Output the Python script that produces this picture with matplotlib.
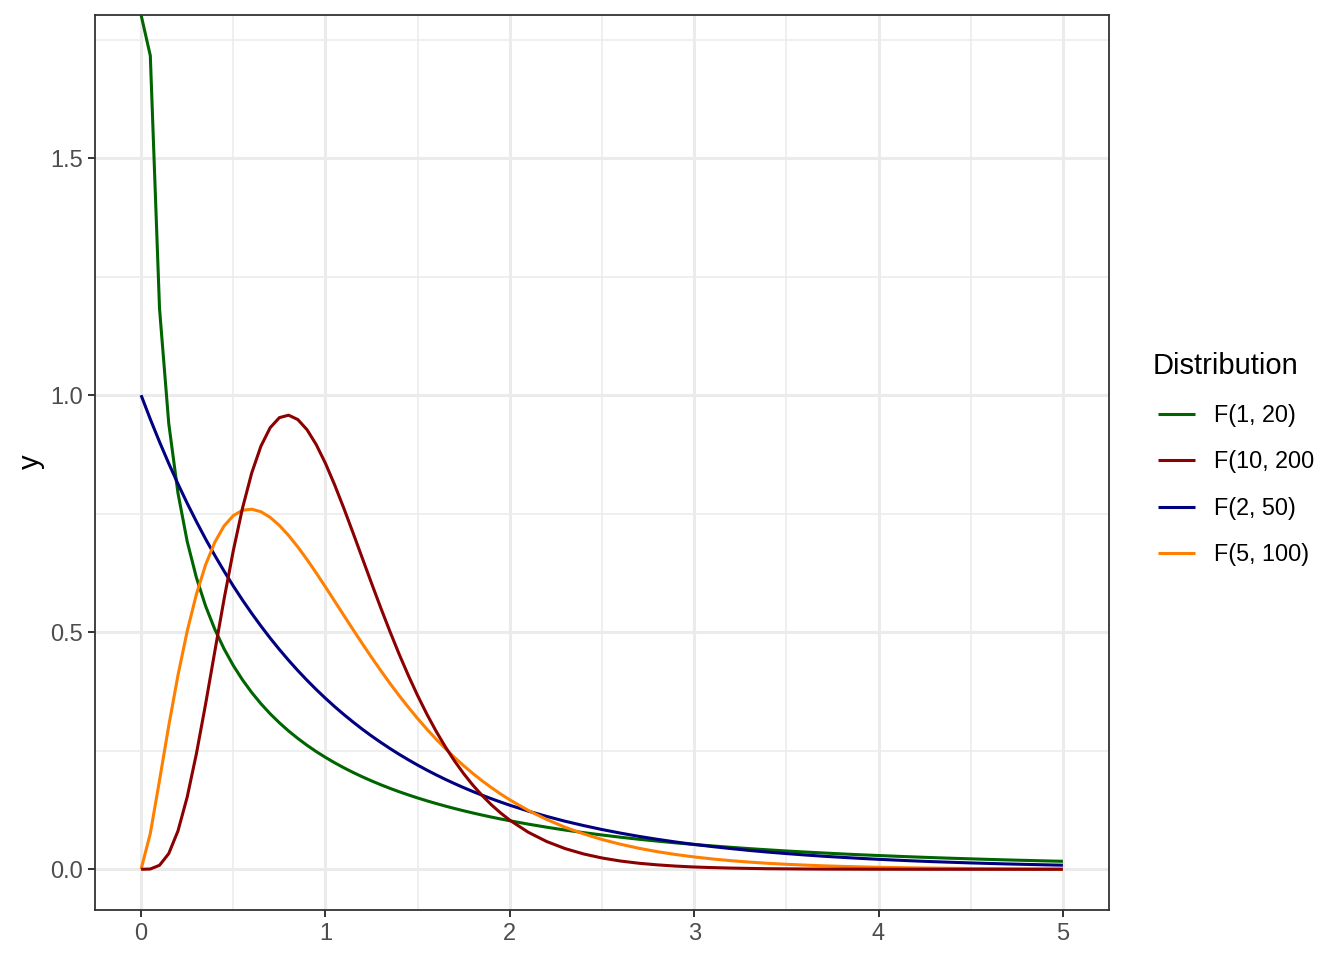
import numpy as np
import matplotlib
matplotlib.use("Agg")
import matplotlib.pyplot as plt
from matplotlib.lines import Line2D
from matplotlib.ticker import FixedLocator

plt.rcParams["font.family"] = ["Liberation Sans", "DejaVu Sans"]

# ---------------- data ----------------
x = [0.00, 0.05, 0.10, 0.15, 0.20, 0.25, 0.30, 0.35, 0.40, 0.45,
     0.50, 0.55, 0.60, 0.65, 0.70, 0.75, 0.80, 0.85, 0.90, 0.95,
     1.00, 1.05, 1.10, 1.15, 1.20, 1.25, 1.30, 1.35, 1.40, 1.45,
     1.50, 1.55, 1.60, 1.65, 1.70, 1.75, 1.80, 1.85, 1.90, 1.95,
     2.00, 2.1, 2.2, 2.3, 2.4, 2.5, 2.6, 2.7, 2.8, 2.9,
     3.0, 3.1, 3.2, 3.3, 3.4, 3.5, 3.6, 3.7, 3.8, 3.9,
     4.0, 4.1, 4.2, 4.3, 4.4, 4.5, 4.6, 4.7, 4.8, 4.9, 5.0]

f_1_20 = [np.inf, 1.716, 1.1825, 0.9405, 0.7936, 0.6916, 0.6152, 0.5551, 0.5060, 0.4650,
          0.4299, 0.3996, 0.3729, 0.3493, 0.3281, 0.3091, 0.2918, 0.2761, 0.2616, 0.2483,
          0.2361, 0.2247, 0.2141, 0.2043, 0.1951, 0.1865, 0.1784, 0.1708, 0.1636, 0.1569,
          0.1505, 0.1445, 0.1388, 0.1334, 0.1283, 0.1234, 0.1188, 0.1144, 0.1102, 0.1062,
          0.1024, 0.0953, 0.0888, 0.0828, 0.0774, 0.0724, 0.0677, 0.0634, 0.0595, 0.0558,
          0.0524, 0.0493, 0.0464, 0.0436, 0.0411, 0.0387, 0.0365, 0.0345, 0.0325, 0.0307,
          0.0291, 0.0275, 0.0260, 0.0246, 0.0233, 0.0221, 0.0209, 0.0198, 0.0188, 0.0178, 0.0169]

f_10_200 = [0.0, 0.0007, 0.0085, 0.0332, 0.0809, 0.1523, 0.2438, 0.3488, 0.4599, 0.5697,
            0.6718, 0.7617, 0.8359, 0.8925, 0.9313, 0.9526, 0.9578, 0.9486, 0.9272, 0.8957,
            0.8562, 0.8107, 0.7612, 0.7092, 0.6562, 0.6033, 0.5514, 0.5014, 0.4535, 0.4085,
            0.3664, 0.3273, 0.2914, 0.2585, 0.2286, 0.2016, 0.1773, 0.1556, 0.1361, 0.1189,
            0.1036, 0.0782, 0.0586, 0.0437, 0.0324, 0.0239, 0.0175, 0.0128, 0.0094, 0.0068,
            0.0049, 0.0036, 0.0026, 0.0019, 0.0013, 0.0010, 0.0007, 0.0005, 0.0004, 0.0003,
            0.0002, 0.00013, 0.00009, 0.00006, 0.00005, 0.00003, 0.00002, 0.00002, 0.00001, 0.00001, 0.00001]

f_2_50 = [1.0, 0.9494, 0.9014, 0.8560, 0.8129, 0.7721, 0.7334, 0.6966, 0.6619, 0.6289,
          0.5976, 0.5679, 0.5398, 0.5131, 0.4877, 0.4637, 0.4409, 0.4192, 0.3987, 0.3792,
          0.3607, 0.3431, 0.3264, 0.3106, 0.2955, 0.2812, 0.2677, 0.2548, 0.2425, 0.2309,
          0.2198, 0.2093, 0.1993, 0.1898, 0.1808, 0.1722, 0.1640, 0.1563, 0.1489, 0.1419,
          0.1352, 0.1228, 0.1116, 0.1014, 0.0923, 0.0839, 0.0764, 0.0695, 0.0633, 0.0576,
          0.0525, 0.0479, 0.0437, 0.0398, 0.0363, 0.0332, 0.0303, 0.0276, 0.0253, 0.0231,
          0.0211, 0.0193, 0.0176, 0.0161, 0.0148, 0.0135, 0.0124, 0.0113, 0.0104, 0.0095, 0.0087]

f_5_100 = [0.0, 0.0757, 0.1877, 0.3027, 0.4092, 0.5022, 0.5801, 0.6424, 0.6900, 0.7241,
           0.7459, 0.7573, 0.7595, 0.7542, 0.7423, 0.7253, 0.7042, 0.6799, 0.6533, 0.6250,
           0.5955, 0.5655, 0.5354, 0.5054, 0.4759, 0.4471, 0.4192, 0.3921, 0.3662, 0.3416,
           0.3180, 0.2957, 0.2746, 0.2547, 0.2360, 0.2184, 0.2020, 0.1866, 0.1723, 0.1589,
           0.1465, 0.1242, 0.1051, 0.0887, 0.0748, 0.0629, 0.0529, 0.0444, 0.0372, 0.0312,
           0.0261, 0.0218, 0.0182, 0.0152, 0.0127, 0.0106, 0.0089, 0.0074, 0.0062, 0.0052,
           0.0043, 0.0036, 0.0030, 0.0025, 0.0021, 0.0017, 0.0015, 0.0012, 0.0010, 0.0008, 0.0007]

labels = ["F(1, 20)", "F(10, 200", "F(2, 50)", "F(5, 100)"]
series = [f_1_20, f_10_200, f_2_50, f_5_100]
colors = ["#006400", "#8B0000", "#000080", "#FF7F00"]
draw_z = [3, 6, 4, 5]

x_ticks = [0, 1, 2, 3, 4, 5]
x_minor = [0.5, 1.5, 2.5, 3.5, 4.5]
y_ticks = [0.0, 0.5, 1.0, 1.5]
y_tick_labels = ["0.0", "0.5", "1.0", "1.5"]
y_minor = [0.25, 0.75, 1.25, 1.75]

# ---------------- figure ----------------
W, H = 1344, 960
fig = plt.figure(figsize=(W / 100, H / 100), dpi=100)
fig.patch.set_facecolor("white")
ax = fig.add_axes([95 / W, 1 - 910 / H, (1109 - 95) / W, (910 - 15) / H])

finite_max = max(v for s in series for v in s if np.isfinite(v))
rng = finite_max - 0.0
ymin, ymax = 0.0 - 0.05 * rng, finite_max + 0.05 * rng
ax.set_xlim(-0.25, 5.25)
ax.set_ylim(ymin, ymax)

# grid (theme_bw style)
grid_col = "#EBEBEB"
ax.set_axisbelow(True)
ax.xaxis.set_major_locator(FixedLocator(x_ticks))
ax.xaxis.set_minor_locator(FixedLocator(x_minor))
ax.yaxis.set_major_locator(FixedLocator(y_ticks))
ax.yaxis.set_minor_locator(FixedLocator(y_minor))
ax.set_yticklabels(y_tick_labels)
ax.grid(which="major", color=grid_col, linewidth=2.2)
ax.grid(which="minor", color=grid_col, linewidth=1.1)

for s, c, z in zip(series, colors, draw_z):
    # infinite values are drawn at the panel edge (like ggplot2)
    yy = np.array([v if np.isfinite(v) else ymax for v in s])
    ax.plot(x, yy, color=c, linewidth=2.2, solid_joinstyle="round",
            solid_capstyle="butt", zorder=z)

for sp in ax.spines.values():
    sp.set_color("#333333")
    sp.set_linewidth(1.3)

ax.tick_params(axis="both", which="major", length=5, width=1.4, color="#333333",
               labelsize=17, labelcolor="#4D4D4D")
ax.tick_params(axis="x", which="major", pad=4)
ax.tick_params(axis="y", which="major", pad=4)
ax.tick_params(which="minor", length=0)

fig.text(31 / W, 1 - 462 / H, "y", rotation=90, ha="center", va="center",
         fontsize=21, color="black")

# ---------------- legend ----------------
fig.text(1153 / W, 1 - 374 / H, "Distribution", ha="left", va="baseline",
         fontsize=21, color="black")
y0, dy = 414, 46.3
for i, (lab, c) in enumerate(zip(labels, colors)):
    yy = 1 - (y0 + i * dy) / H
    fig.add_artist(Line2D([1158 / W, 1195 / W], [yy, yy], transform=fig.transFigure,
                          color=c, linewidth=2.2, solid_capstyle="butt"))
    fig.text(1214 / W, yy - 1.5 / H, lab, ha="left", va="center", fontsize=16.8,
             color="black")

fig.savefig("out.png", dpi=100, facecolor="white")
